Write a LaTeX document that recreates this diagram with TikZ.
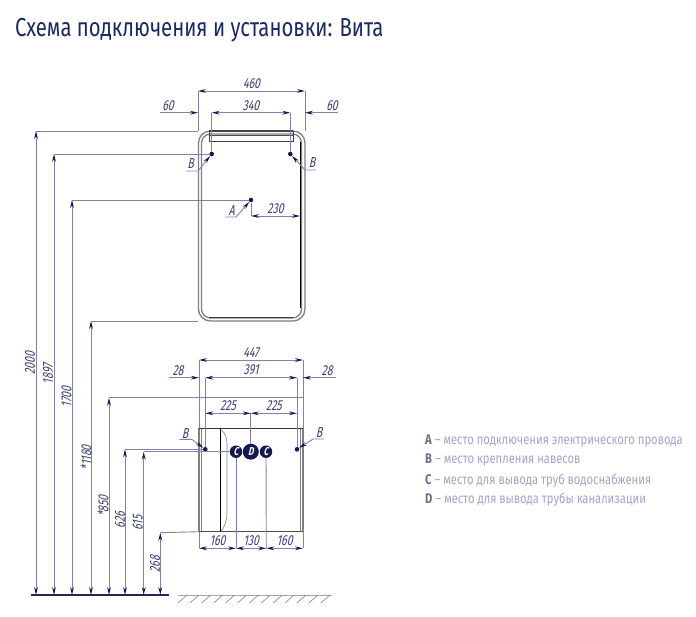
\documentclass[tikz,border=0pt]{standalone}
\usepackage{fontspec}
\usetikzlibrary{arrows.meta}
\setmainfont{Fira Sans}
\newfontfamily\titlef[FakeStretch=0.78]{Fira Sans}
\newfontfamily\legf[FakeStretch=0.8]{Fira Sans}
\newfontfamily\dimf[FakeStretch=0.72,FakeSlant=0.22]{Fira Sans}
\definecolor{navy}{HTML}{14194F}
\definecolor{dimc}{HTML}{8082A6}
\definecolor{framec}{HTML}{808084}
\definecolor{legc}{HTML}{A0A6C4}
\definecolor{legb}{HTML}{6B7088}
\definecolor{titlec}{HTML}{1B2A5E}
\tikzset{
 tip/.tip={Stealth[length=8pt,width=3.8pt,color=navy]},
 ext/.style={draw=dimc,line width=0.9pt},
 dimline/.style={draw=dimc,line width=0.9pt,tip-tip},
 arr/.style={draw=dimc,line width=0.9pt,-tip},
 dimtxt/.style={font=\dimf\fontsize{14.5}{14.5}\selectfont,text=navy!65!dimc,inner sep=0pt},
 dot/.style={circle,fill=navy,inner sep=0pt,minimum size=4.6pt},
 badge/.style={circle,fill=navy,inner sep=0pt,text=white,font=\dimf\bfseries\fontsize{11.5}{11.5}\selectfont},
 legline/.style={anchor=west,inner sep=0pt,font=\legf\fontsize{14}{14}\selectfont,text=legc},
 body/.style={draw=framec,line width=1.3pt},
 darkline/.style={draw=black!75,line width=1.2pt},
}
\newcommand{\letr}[1]{{\textcolor{legb}{\bfseries #1}}}
\begin{document}
\begin{tikzpicture}[x=1pt,y=-1pt]
\useasboundingbox (0,0) rectangle (696,616);
\node[anchor=west,inner sep=0pt,text=titlec,font=\titlef\fontsize{26}{26}\selectfont] (title) at (15,30) {Схема подключения и установки: Вита};
% anchor points
\node[dot] (mbl) at (211.7,154) {};
\node[dot] (mbr) at (290.3,154) {};
\node[dot] (ma) at (251,200) {};
\node[dot] (cbl) at (205.3,449.3) {};
\node[dot] (cbr) at (297,449.3) {};
\node[badge,minimum size=16pt] (d) at (250.8,451.7) {D};
\node[badge,minimum size=12.5pt] (c1) at (236,451.7) {C};
\node[badge,minimum size=12.5pt] (c2) at (266,451.7) {C};
\coordinate (m1) at (198,131); \coordinate (m2) at (305,131);
\coordinate (mb) at (198,321);
\coordinate (c3) at (199,428.3); \coordinate (c4) at (303,428.3);
\coordinate (c5) at (199,531.7); \coordinate (c6) at (303,531.7);
\coordinate (c7) at (236,531.7); \coordinate (c8) at (266.3,531.7);
% mirror
\draw[body,rounded corners=12pt] (198.5,131) rectangle (305,321);
\draw[body,rounded corners=9pt] (201.5,134) rectangle (301.5,318);
\draw[draw=black,line width=0.9pt] (300.5,142) -- (300.5,308);
\draw[darkline] (209,131) -- (293,131);
\draw[draw=black!70,line width=1pt] (209,135) -- (293,135);
\draw[draw=black!75,line width=0.7pt] (209,131) rectangle (293,141.5);
\draw[darkline] (209,317.3) -- (293,317.3);
% cabinet
\draw[draw=framec,line width=1.1pt] (c3) rectangle (c6);
\draw[draw=framec,line width=1pt] (201.3,428.3) -- (201.3,531.7);
\draw[draw=framec,line width=1pt] (300.5,428.3) -- (300.5,531.7);
\draw[draw=black!80,line width=1.3pt] (c3) -- (c4);
\draw[draw=black!70,line width=1pt] (c5) -- (c6);
\draw[draw=black,line width=1.6pt] (220.5,428.3) -- (220.5,531.7);
\draw[draw=framec,line width=0.6pt] (221.5,430) .. controls (225,433) and (227,438) .. (227,444) -- (227,513) .. controls (227,520) and (225,527) .. (220.7,531.7);
% mirror dims
\coordinate (d1) at (198,91); \coordinate (d2) at (305,91);
\draw[ext] (m1) -- (d1); \draw[ext] (m2) -- (d2);
\draw[dimline] (d1) -- node[dimtxt,above=2pt] {460} (d2);
\coordinate (e1) at (211.7,112.7); \coordinate (e2) at (290.3,112.7);
\coordinate (e0) at (198,112.7); \coordinate (e3) at (305,112.7);
\coordinate (e4) at (160,112.7); \coordinate (e5) at (338,112.7);
\draw[ext] (mbl) -- (e1); \draw[ext] (mbr) -- (e2);
\draw[dimline] (e1) -- node[dimtxt,above=2pt] {340} (e2);
\draw[arr] (e4) -- node[dimtxt,above=2pt,pos=0.21] {60} (e0);
\draw[arr] (e5) -- node[dimtxt,above=2pt,pos=0.18] {60} (e3);
% A
\coordinate (a1) at (251,216); \coordinate (a2) at (300,216);
\draw[ext] (ma) -- (a1);
\draw[dimline] (a1) -- node[dimtxt,above=2pt] {230} (a2);
\coordinate (al) at (236,217); \coordinate (al2) at (225,217);
\draw[arr] (al2) -- (al) -- (ma);
\node[dimtxt] (at) at (231.5,210.5) {A};
% B mirror
\coordinate (bl) at (198,171); \coordinate (bl2) at (186,171);
\draw[arr] (bl2) -- (bl) -- (mbl);
\node[dimtxt] (bt1) at (190.5,164) {B};
\coordinate (br) at (305,170); \coordinate (br2) at (316,170);
\draw[arr] (br2) -- (br) -- (mbr);
\node[dimtxt] (bt2) at (312,163) {B};
% ground
\coordinate (g0) at (31,595); \coordinate (g1) at (169,595);
\draw[draw=navy!85!dimc,line width=1.1pt] (g0) -- (g1);
\draw[draw=framec!70,line width=0.5pt] (178,595) -- (332,595);
\foreach \i in {0,...,12}{\draw[draw=framec,line width=0.6pt] ({178+\i*11.9},603) -- ({187+\i*11.9},595);}
% vertical dims
\coordinate (v1) at (36,131); \coordinate (v1b) at (36,595);
\coordinate (v2) at (54,154); \coordinate (v2b) at (54,595);
\coordinate (v3) at (72,200); \coordinate (v3b) at (72,595);
\coordinate (v4) at (91,321); \coordinate (v4b) at (91,595);
\coordinate (v5) at (109,397.7); \coordinate (v5b) at (109,595);
\coordinate (v6) at (125,449.3); \coordinate (v6b) at (125,595);
\coordinate (v7) at (143.7,451.7); \coordinate (v7b) at (143.7,595);
\coordinate (v8) at (160.3,532.7); \coordinate (v8b) at (160.3,595);
\coordinate (h5) at (303,397.7);
\draw[ext] (m1) -- (v1);
\draw[ext] (mbl) -- (v2);
\draw[ext] (ma) -- (v3);
\draw[ext] (mb) -- (v4);
\draw[ext] (h5) -- (v5);
\draw[ext] (cbl) -- (v6);
\draw[ext] (c1) -- (v7);
\draw[ext] (c5) -- (v8);
\draw[dimline] (v1) -- (v1b);
\draw[dimline] (v2) -- (v2b);
\draw[dimline] (v3) -- (v3b);
\draw[dimline] (v4) -- (v4b);
\draw[dimline] (v5) -- (v5b);
\draw[dimline] (v6) -- (v6b);
\draw[dimline] (v7) -- (v7b);
\draw[dimline] (v8) -- (v8b);
\node[dimtxt,rotate=90] (t1) at (30,363) {2000};
\node[dimtxt,rotate=90] (t2) at (48,374) {1897};
\node[dimtxt,rotate=90] (t3) at (66.5,397) {1700};
\node[dimtxt,rotate=90] (t4) at (86,458) {*1180};
\node[dimtxt,rotate=90] (t5) at (103,506) {*850};
\node[dimtxt,rotate=90] (t6) at (120,520) {626};
\node[dimtxt,rotate=90] (t7) at (137.7,523) {615};
\node[dimtxt,rotate=90] (t8) at (155,564) {268};
% cabinet dims
\coordinate (f1) at (199,360); \coordinate (f2) at (303,360);
\draw[ext] (c3) -- (f1); \draw[ext] (c4) -- (f2);
\draw[dimline] (f1) -- node[dimtxt,above=2pt] {447} (f2);
\coordinate (i1) at (205.3,377.7); \coordinate (i2) at (297,377.7);
\coordinate (i0) at (199,377.7); \coordinate (i3) at (303,377.7);
\coordinate (i4) at (169,377.7); \coordinate (i5) at (336,377.7);
\draw[ext] (cbl) -- (i1); \draw[ext] (cbr) -- (i2);
\draw[dimline] (i1) -- node[dimtxt,above=2pt] {391} (i2);
\draw[arr] (i4) -- node[dimtxt,above=2pt,pos=0.3] {28} (i0);
\draw[arr] (i5) -- node[dimtxt,above=2pt,pos=0.27] {28} (i3);
\coordinate (j1) at (205.3,413.3); \coordinate (j2) at (250.8,413.3); \coordinate (j3) at (297,413.3);
\draw[ext] (d) -- (j2);
\draw[dimline] (j1) -- node[dimtxt,above=2pt] {225} (j2);
\draw[dimline] (j2) -- node[dimtxt,above=2pt] {225} (j3);
% B cabinet
\coordinate (k1) at (191.7,439.3); \coordinate (k2) at (179.3,439.3);
\draw[arr] (k2) -- (k1) -- (cbl);
\node[dimtxt] (bt3) at (185,433) {B};
\coordinate (k3) at (313,439); \coordinate (k4) at (324,439);
\draw[arr] (k4) -- (k3) -- (cbr);
\node[dimtxt] (bt4) at (319,432) {B};
% bottom dims
\coordinate (n1) at (199,548.3); \coordinate (n2) at (236,548.3); \coordinate (n3) at (266.3,548.3); \coordinate (n4) at (303,548.3);
\draw[ext] (c5) -- (n1); \draw[ext] (c6) -- (n4);
\draw[ext] (c1) -- (n2); \draw[ext] (c2) -- (n3);
\draw[dimline] (n1) -- node[dimtxt,above=2pt] {160} (n2);
\draw[dimline] (n2) -- node[dimtxt,above=2pt] {130} (n3);
\draw[dimline] (n3) -- node[dimtxt,above=2pt] {160} (n4);
% legend
\node[legline] (la) at (425,441.5) {\letr{A} – место подключения электрического провода};
\node[legline] (lb) at (425,460.5) {\letr{B} – место крепления навесов};
\node[legline] (lc) at (425,480.5) {\letr{C} – место для вывода труб водоснабжения};
\node[legline] (ld) at (425,500) {\letr{D} – место для вывода трубы канализации};
\end{tikzpicture}
\end{document}
